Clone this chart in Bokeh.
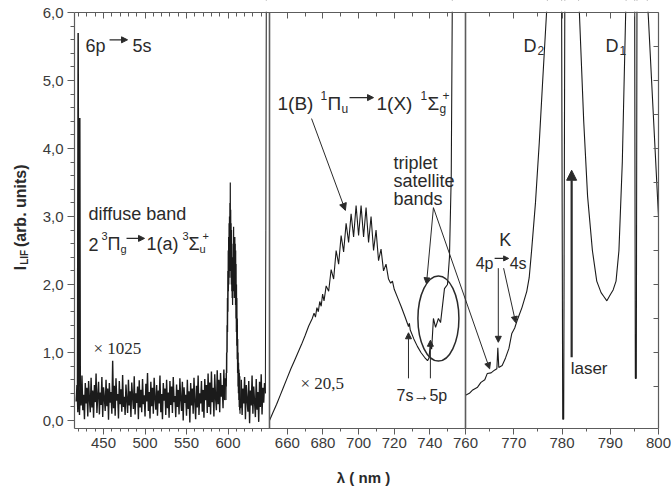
import numpy as np
from bokeh.plotting import figure
from bokeh.models import (Range1d, LinearAxis, FixedTicker, Label, Arrow, BoxAnnotation,
                          NormalHead, CustomJSTickFormatter)
from bokeh.embed import file_html
from bokeh.resources import INLINE

# ---------------- data ----------------
# broken wavelength axis: 415-650 | 650-760 | 760-800 nm
seg_lam = [415, 650, 760, 800]

# part 1 (x 1025): noise, 6p->5s lines, diffuse band
val_noise_a = [
    0.28, 0.52, 0.12, 0.61, 0.08, 0.45, 0.22, 0.66, 0.15, 0.38, 0.02, 0.55, 0.25, 0.48, 0.06, 0.58, 0.31, 0.12, 0.63, 0.19,
    0.44, 0.04, 0.52, 0.27, 0.69, 0.11, 0.36, 0.57, 0.09, 0.41, 0.23, 0.64, 0.05, 0.49, 0.33, 0.14, 0.60, 0.21, 0.47, 0.01,
    0.55, 0.26, 0.42, 0.10, 0.88, 0.18, 0.51, 0.07, 0.62, 0.29, 0.39, 0.03, 0.58, 0.24, 0.46, 0.13, 0.67, 0.20, 0.35, 0.08,
    0.53, 0.30, 0.11, 0.60, 0.22, 0.43, 0.05, 0.56, 0.34, 0.17, 0.65, 0.09, 0.40, 0.26, 0.50, 0.02, 0.59, 0.19, 0.45, 0.12,
    0.61, 0.24, 0.37, 0.06, 0.54, 0.28, 0.70, 0.14, 0.42, 0.03, 0.57, 0.21, 0.48, 0.10, 0.63, 0.32, 0.16, 0.52, 0.07, 0.44,
    0.25, 0.66, 0.12, 0.39, 0.02, 0.55, 0.29, 0.47, 0.08, 0.60, 0.18, 0.41, 0.04, 0.58, 0.23, 0.50, 0.11, 0.64, 0.27, 0.36,
    0.05, 0.53, 0.20, 0.45, 0.09, 0.62, 0.31, 0.14, 0.57, 0.00, 0.49, 0.26, 0.38, 0.07, 0.60, 0.17, 0.43, -0.03, 0.55, 0.22,
    0.47, 0.10, 0.63, 0.28, 0.02, 0.51, 0.19, 0.66, 0.08, 0.40, 0.25, 0.58, 0.13, 0.45, 0.04, 0.61, 0.30, 0.52, 0.11, 0.69,
    0.20, 0.56, 0.09, 0.72, 0.27, 0.48, 0.06, 0.68, 0.33, 0.15, 0.74, 0.24, 0.60, 0.12, 0.70, 0.35, 0.52, 0.18, 0.75, 0.30,
    0.62]
lam_noise_a = 417 + 1.0 * np.arange(len(val_noise_a))
lam_6p5s_a = [418.6, 419.4, 420.2]          # 6p -> 5s, first line
val_6p5s_a = [0.4, 5.7, 0.4]
lam_6p5s_b = [420.6, 421.2, 421.8]          # 6p -> 5s, second line
val_6p5s_b = [0.5, 4.45, 0.3]
val_band = [0.3, 0.7, 0.5, 1.0, 0.7, 1.4, 1.0, 1.8, 1.3, 2.2, 1.6, 2.5, 1.9, 2.7, 2.0, 2.9, 2.1, 3.0,
            2.2, 3.2, 2.3, 3.5, 2.2, 3.1, 2.1, 2.9, 2.0, 2.8, 1.9, 2.6, 1.8, 2.3, 1.7, 2.0, 1.8, 2.4,
            1.9, 2.85, 2.0, 2.7, 1.9, 2.6, 1.8, 2.7, 1.8, 2.6, 1.7, 2.5, 1.5, 2.3, 1.3, 2.0, 1.1, 1.8,
            0.9, 1.5, 0.7, 1.2, 0.5, 1.0, 0.4, 0.85, 0.3, 0.75, 0.2, 0.7, 0.15, 0.65, 0.1]
lam_band = 597.5 + 0.25 * np.arange(len(val_band))
val_noise_b = [0.18, 0.60, 0.08, 0.47, 0.25, 0.64, 0.02, 0.52, 0.30, 0.13, 0.58, -0.04, 0.44, 0.22, 0.66,
               0.10, 0.50, 0.27, 0.05, 0.61, 0.16, 0.42, -0.02, 0.57, 0.20, 0.68, 0.09, 0.48, 0.26, 0.55]
lam_noise_b = 615 + 1.0 * np.arange(len(val_noise_b))
lam_edge = [644, 645, 645.6, 646.2]
val_edge = [0.55, 0.4, 2.8, 6.6]

# part 2 (x 20,5): 1(B)-1(X) band and triplet satellite bands
lam_mid = [650, 652, 654, 656, 658, 660, 662, 664, 666, 668, 670, 672, 674,
           675, 675.8, 676.6, 677.4, 678.2, 679, 679.8, 680.6,
           681.8, 683.2, 684.6, 686, 687.4, 688.8, 690.2, 691.6, 693, 694.4, 695.8, 697.2, 698.6,
           700, 701.4, 702.8, 704.2, 705.6, 707, 708.4, 709.8, 711.2, 712.6, 714, 715.4, 716.8,
           718, 719, 720, 722, 724, 726, 727.5, 728, 728.5, 729, 731, 733, 735, 737, 738.7,
           739.5, 740.3, 741, 742, 743.2, 744.8, 746, 748.2, 749.9, 751, 752, 752.7, 760]
val_mid = [0.0, 0.12, 0.24, 0.37, 0.5, 0.63, 0.76, 0.88, 1.0, 1.12, 1.25, 1.39, 1.5,
           1.58, 1.52, 1.66, 1.6, 1.75, 1.68, 1.86, 1.76,
           1.98, 1.9, 2.22, 2.08, 2.5, 2.3, 2.72, 2.48, 2.9, 2.62, 3.04, 2.7, 3.16,
           2.72, 3.16, 2.7, 3.13, 2.62, 3.0, 2.5, 2.8, 2.35, 2.52, 2.2, 2.3, 2.08,
           2.02, 2.05, 1.93, 1.8, 1.67, 1.53, 1.42, 1.38, 1.43, 1.33, 1.2, 1.09, 1.0, 0.93, 0.88,
           0.92, 1.13, 1.05, 1.5, 1.37, 1.5, 1.44, 1.94, 2.0, 2.4, 3.6, 6.6, 6.6]

# part 3: Rb D2 / D1 wings, K line
lam_right = [760, 760.8, 761.5, 762.5, 763.2, 764, 764.5, 765.3, 766, 766.5, 766.7, 766.9,
             767.6, 768.3, 769, 769.6, 770.2, 770.7, 771.7, 772.7, 773.2, 773.7, 774.5, 775.3,
             776, 776.8, 777.4, 779.9, 780.15, 780.35, 780.6, 783, 783.6, 784.5, 785.3, 786.3,
             787.2, 788.1, 788.7, 789.3, 790, 790.6, 791.2, 791.8, 792.5, 793.2, 793.5,
             795.05, 795.2, 795.4, 795.55, 797.3, 797.9, 800]
val_right = [0.37, 0.4, 0.45, 0.49, 0.56, 0.6, 0.69, 0.7, 0.74, 0.76, 1.07, 0.78,
             0.81, 0.92, 1.06, 1.28, 1.36, 1.47, 1.66, 1.9, 2.1, 2.5, 3.2, 4.1,
             5.0, 6.0, 6.6, 6.6, 0.02, 0.02, 6.6, 6.6, 6.0, 4.4, 3.3, 2.5,
             2.05, 1.88, 1.82, 1.76, 1.85, 1.92, 2.05, 2.5, 3.8, 6.0, 6.6,
             6.6, 0.62, 0.62, 6.6, 6.6, 5.93, 3.0]

# ticks
x_major = [450, 500, 550, 600, 660, 680, 700, 720, 740, 760, 770, 780, 790, 800]
x_minor = [420, 430, 440, 460, 470, 480, 490, 510, 520, 530, 540, 560, 570, 580, 590,
           610, 620, 630, 640, 670, 690, 710, 730, 750, 765, 775, 785, 795]
y_major = [0, 1, 2, 3, 4, 5, 6]
y_minor = [0.2, 0.4, 0.6, 0.8, 1.2, 1.4, 1.6, 1.8, 2.2, 2.4, 2.6, 2.8, 3.2, 3.4, 3.6, 3.8,
           4.2, 4.4, 4.6, 4.8, 5.2, 5.4, 5.6, 5.8]
y_right = [0.5, 1.0, 1.5, 2.0, 2.5, 3.0, 3.5, 4.0, 4.5, 5.0, 5.5]
y_lo, y_hi = -0.12, 6.0

# ---------------- layout ----------------
# the whole picture is one frame; the axes are drawn at fixed places inside it
W, H = 671, 488
PAD_L, FW = 74, 584                  # left margin (tick labels, title), width of the data box
PX = 68.0                            # pixels per intensity unit
seg_u = [0, 195, 391, FW]           # pixel position of each segment edge in the data box
Y1 = y_hi + 12 / PX
Y0 = Y1 - H / PX


def to_u(lam):
    return np.interp(lam, seg_lam, seg_u)


INK = "#1b1b1b"
AX = "#5c5c5c"
TXT = "#2a2a2a"
SANS = "Liberation Sans"
SERIF = "Liberation Serif"

p = figure(frame_width=W, frame_height=H, x_range=Range1d(-PAD_L, W - PAD_L), y_range=Range1d(Y0, Y1),
           output_backend="svg", toolbar_location=None,
           x_axis_location=None, y_axis_location=None,
           min_border=0, background_fill_color="white", border_fill_color="white")
p.grid.visible = False
p.outline_line_color = None

xt = FixedTicker(ticks=[float(v) for v in to_u(x_major)], minor_ticks=[float(v) for v in to_u(x_minor)])
xfmt = CustomJSTickFormatter(args=dict(U=seg_u, L=seg_lam), code="""
for (let i = 0; i < 3; i++) {
  if (tick >= U[i] - 0.01 && tick <= U[i+1] + 0.01) {
    const lam = L[i] + (tick - U[i]) * (L[i+1] - L[i]) / (U[i+1] - U[i]);
    return Math.round(lam).toString();
  }
}
return '';
""")
yfmt = CustomJSTickFormatter(code="return tick.toFixed(1).replace('.', ',');")
nofmt = CustomJSTickFormatter(code="return '';")


def make_axis(side, loc, ticker, fmt, bounds, t_in=0, t_out=0, m_in=0, m_out=0, lw=1.2):
    ax = LinearAxis(ticker=ticker, formatter=fmt, fixed_location=loc, bounds=bounds)
    ax.axis_line_color = AX
    ax.axis_line_width = lw
    ax.major_tick_line_color = AX
    ax.minor_tick_line_color = AX
    ax.major_tick_in, ax.major_tick_out = t_in, t_out
    ax.minor_tick_in, ax.minor_tick_out = m_in, m_out
    ax.major_label_text_font = SANS
    ax.major_label_text_font_size = "15px"
    ax.major_label_text_color = "#3a3a3a"
    p.add_layout(ax, side)
    return ax


xb = make_axis("below", y_lo, xt, xfmt, (0, FW), t_out=6, m_out=3)
xb.major_label_standoff = 3
make_axis("above", y_hi, xt, nofmt, (0, FW), t_in=6, m_in=4)
yl = make_axis("left", 0, FixedTicker(ticks=y_major, minor_ticks=y_minor), yfmt, (y_lo, y_hi), t_out=7, m_out=4)
yl.major_label_standoff = 4
make_axis("right", FW, FixedTicker(ticks=y_right, minor_ticks=[]), nofmt, (y_lo, y_hi), t_in=5)
# segment borders of the broken axis
for b in seg_lam[1:3]:
    make_axis("left", float(to_u(b)), FixedTicker(ticks=[], minor_ticks=[]), nofmt, (y_lo, y_hi), lw=1.6)

# ---------------- spectrum ----------------
p.line(to_u(lam_noise_a), val_noise_a, line_color=INK, line_width=1.4)
p.line(to_u(lam_band), val_band, line_color=INK, line_width=1.2)
p.line(to_u(lam_noise_b), val_noise_b, line_color=INK, line_width=1.4)
p.line(to_u(lam_edge), val_edge, line_color=INK, line_width=1)
p.line(to_u(lam_6p5s_a), val_6p5s_a, line_color=INK, line_width=1.5)
p.line(to_u(lam_6p5s_b), val_6p5s_b, line_color=INK, line_width=1.8)
p.line(to_u(lam_mid), val_mid, line_color=INK, line_width=1.1)
p.line(to_u(lam_right), val_right, line_color=INK, line_width=1.1)
# off-scale parts end at the top of the axis box
p.add_layout(BoxAnnotation(left=0, right=FW, bottom=y_hi + 0.8 / PX, top=Y1 + 1,
                           fill_color="white", fill_alpha=1.0, line_color=None))


# ---------------- annotations ----------------
def lab(pos, text, size=18, dx=0, dy=0, font=SANS, style="normal", angle=0.0,
        baseline="alphabetic", align="left", u=None):
    lam, val = pos
    x = float(to_u(lam)) if u is None else u
    p.add_layout(Label(x=x, y=val, text=text, x_offset=dx, y_offset=dy, text_font=font,
                       text_font_size=f"{size}px", text_font_style=style, text_color=TXT,
                       text_baseline=baseline, text_align=align, angle=angle))


def arrow(l0, v0, l1, v1, size=7, width=1.0):
    p.add_layout(Arrow(end=NormalHead(size=size, fill_color=TXT, line_color=TXT, line_width=1),
                       x_start=float(to_u(l0)), y_start=v0, x_end=float(to_u(l1)), y_end=v1,
                       line_color=TXT, line_width=width))


def inline_arrow(pos, dx0, dx1, dy=6, size=6):
    lam, val = pos
    u0 = float(to_u(lam))
    p.add_layout(Arrow(end=NormalHead(size=size, fill_color=TXT, line_color=TXT, line_width=1),
                       x_start=u0 + dx0, y_start=val + dy / PX, x_end=u0 + dx1, y_end=val + dy / PX,
                       line_color=TXT, line_width=1.2))


# 6p -> 5s
S = (428.3, 5.51)
lab(S, "6p")
inline_arrow(S, 24, 42)
lab(S, "5s", dx=47)
# diffuse band
lab((431.9, 3.04), "diffuse band")
A = (431.9, 2.59)
lab(A, "2")
lab(A, "3", size=11, dx=13, dy=8)
lab(A, "\u03a0", dx=19)
lab(A, "g", size=11, dx=32, dy=-5)
inline_arrow(A, 38, 56)
lab(A, "1(a)", dx=58)
lab(A, "3", size=11, dx=94, dy=8)
lab(A, "\u03a3", dx=100)
lab(A, "u", size=11, dx=111, dy=-5)
lab(A, "+", size=11, dx=114, dy=8)
# scale factors
lab((437.9, 1.06), "\u00d7 1025", font=SERIF, size=17)
lab((667.4, 0.54), "\u00d7 20,5", font=SERIF, size=17)
# 1(B) -> 1(X)
B = (654.5, 4.66)
lab(B, "1(B)", size=19)
lab(B, "1", size=12, dx=43, dy=8)
lab(B, "\u03a0", size=19, dx=50)
lab(B, "u", size=12, dx=64, dy=-5)
inline_arrow(B, 72, 96)
lab(B, "1(X)", size=19, dx=99)
lab(B, "1", size=12, dx=143, dy=8)
lab(B, "\u03a3", size=19, dx=150)
lab(B, "g", size=12, dx=162, dy=-5)
lab(B, "+", size=12, dx=165, dy=8)
arrow(673.6, 4.44, 692.6, 3.09)
# triplet satellite bands
lab((719.6, 3.78), "triplet")
lab((719.6, 3.52), "satellite")
lab((719.6, 3.26), "bands")
arrow(742.0, 3.13, 738.1, 2.01, size=6)
arrow(742.0, 3.13, 765.0, 0.76, size=6)
p.ellipse(x=[float(to_u(744.8))], y=[1.5], width=41, height=85, width_units="screen",
          height_units="screen", fill_alpha=0, line_color=TXT, line_width=1.5)
# 7s -> 5p
lab((721.3, 0.37), "7s\u21925p", size=16)
arrow(728.0, 0.62, 728.0, 1.29, size=6)
arrow(740.3, 0.62, 740.3, 1.18, size=6)
# K 4p -> 4s
lab((767.0, 2.65), "K")
K = (762.1, 2.31)
lab(K, "4p", size=16)
inline_arrow(K, 19, 33, dy=5, size=5)
lab(K, "4s", size=16, dx=34)
arrow(766.8, 2.24, 766.8, 1.15, size=6)
arrow(767.9, 2.24, 770.4, 1.44, size=6)
# D lines
lab((772.0, 5.51), "D")
lab((772.0, 5.51), "2", size=12, dx=14, dy=-5)
lab((789.0, 5.51), "D")
lab((789.0, 5.51), "1", size=12, dx=14, dy=-5)
# laser
lab((781.8, 0.76), "laser", size=17)
arrow(782.0, 0.93, 782.0, 3.68, size=10, width=2.2)

# axis titles
lab((0, 2.21), "I", size=16, style="bold", angle=np.pi / 2, baseline="middle", u=-54)
lab((0, 2.29), "LIF", size=10, style="bold", angle=np.pi / 2, baseline="middle", u=-50)
lab((0, 2.55), "(arb. units)", size=16, style="bold", angle=np.pi / 2, baseline="middle", u=-54)
lab((0, (420 - 477) / PX), "\u03bb ( nm )", size=15, style="bold", align="center", u=289)

open("out.html", "w").write(file_html(p, INLINE))
